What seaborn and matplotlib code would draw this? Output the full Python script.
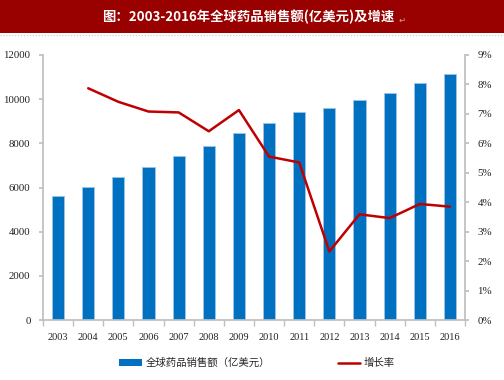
import numpy as np
import pandas as pd
import matplotlib
matplotlib.use("Agg")
import matplotlib.pyplot as plt
import seaborn as sns
from matplotlib.patches import Rectangle
from matplotlib.lines import Line2D
from matplotlib.ticker import FuncFormatter

years = ["2003", "2004", "2005", "2006", "2007", "2008", "2009",
         "2010", "2011", "2012", "2013", "2014", "2015", "2016"]
sales = [5620, 6030, 6470, 6910, 7430, 7900, 8460,
         8910, 9400, 9620, 9970, 10300, 10710, 11130]
growth = [np.nan, 7.87, 7.41, 7.08, 7.05, 6.41, 7.13,
          5.55, 5.35, 2.33, 3.59, 3.46, 3.94, 3.85]
title = "图：2003-2016年全球药品销售额(亿美元)及增速"
bar_label = "全球药品销售额（亿美元）"
line_label = "增长率"

sns.set_theme(style="white")
plt.rcParams['font.family'] = ['Liberation Serif', 'Noto Sans CJK SC', 'DejaVu Sans']

bar_color = "#0070C0"
line_color = "#C00000"
grey = "#BFBFBF"

fig = plt.figure(figsize=(5.04, 3.80), dpi=100)
ax = fig.add_axes([43/504, 1-320/380, (465-43)/504, (320-55)/380])

df = pd.DataFrame({"year": years, "sales": sales, "growth": growth})
sns.barplot(data=df, x="year", y="sales", color=bar_color, width=0.4,
            saturation=1, ax=ax, edgecolor="#9DC3E6", linewidth=0.6)
ax.set_ylim(0, 12000)
ax.set_yticks(np.arange(0, 12001, 2000))
ax.set_xlim(-0.5, len(years) - 0.5)
ax.set_xlabel("")
ax.set_ylabel("")

ax2 = ax.twinx()
ld = pd.DataFrame({"x": np.arange(len(years)), "g": growth}).dropna()
sns.lineplot(data=ld, x="x", y="g", color=line_color, linewidth=1.8, ax=ax2)
ax2.set_ylim(0, 9)
ax2.set_yticks(np.arange(0, 10, 1))
ax2.yaxis.set_major_formatter(FuncFormatter(lambda v, p: f"{int(v)}%"))
ax2.set_xlabel("")
ax2.set_ylabel("")
ax2.set_xlim(-0.5, len(years) - 0.5)

for a in (ax, ax2):
    for s in a.spines.values():
        s.set_visible(False)
ax.spines["left"].set_visible(True)
ax.spines["left"].set_color(grey)
ax.spines["bottom"].set_visible(True)
ax.spines["bottom"].set_color(grey)
ax2.spines["right"].set_visible(True)
ax2.spines["right"].set_color(grey)

ax.tick_params(axis="y", which="major", left=True, length=3, color=grey,
               labelsize=7.8, pad=6, labelcolor="#222222")
ax2.tick_params(axis="y", which="major", right=True, length=3, color=grey,
                labelsize=7.8, pad=6, labelcolor="#222222")
ax.set_xticks(np.arange(len(years)))
ax.set_xticklabels(years)
ax.set_xticks(np.arange(-0.5, len(years), 1), minor=True)
ax.tick_params(axis="x", which="major", length=0, labelsize=7.5, pad=9,
               labelcolor="#222222")
ax.tick_params(axis="x", which="minor", bottom=True, length=4, color=grey)
ax.grid(False)
ax2.grid(False)

# Title banner
fig.patches.append(Rectangle((0, 1-33/380), 1, 33/380, transform=fig.transFigure,
                             facecolor="#990000", edgecolor="none", zorder=0))
fig.text(0.492, 1-16.5/380, title, color="white", fontsize=9.6, fontweight="bold",
         ha="center", va="center", family=['Noto Sans CJK SC', 'DejaVu Sans'])
fig.text(402/504, 1-20/380, "↵", color="#D8A0A0", fontsize=6,
         ha="center", va="center", family=['DejaVu Sans'])
fig.lines.append(Line2D([0, 1], [1-35/380, 1-35/380], transform=fig.transFigure,
                        color="#C8C8C8", linewidth=0.8, linestyle=":"))

# Legend
handles = [Rectangle((0, 0), 1, 1, facecolor=bar_color, edgecolor="none"),
           Line2D([0], [0], color=line_color, linewidth=1.8)]
leg = fig.legend(handles, [bar_label, line_label], loc="center",
                 bbox_to_anchor=(0.51, 1-363/380), ncol=2, frameon=False,
                 fontsize=7.5, handlelength=2.2, handleheight=0.6,
                 columnspacing=6.5, handletextpad=0.3,
                 prop={'family': ['Noto Sans CJK SC', 'DejaVu Sans'], 'size': 7.5})

fig.savefig("out.png", dpi=100)
